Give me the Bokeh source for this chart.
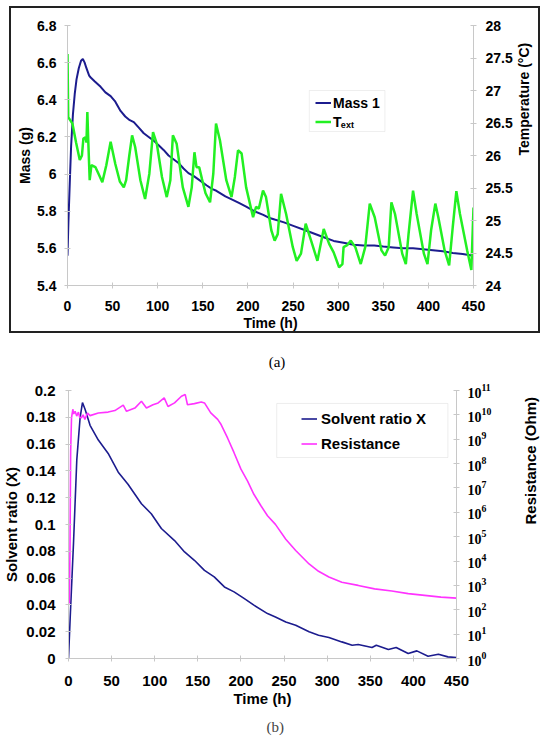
import math
from bokeh.plotting import figure
from bokeh.models import (LinearAxis, LogAxis, Range1d, LogScale, FixedTicker, Title,
                          CustomJSTickFormatter, LogTickFormatter, Legend, LegendItem,
                          BoxAnnotation, Label, Div)
from bokeh.layouts import column
from bokeh.embed import file_html
from bokeh.resources import INLINE

# ---------------- data: panel (a) ----------------
mass_t = [0, 1, 2.5, 4, 6, 8, 10, 12.5, 15, 17, 19, 21, 24, 25.7, 30, 36.7, 42, 47.8, 53,
          58.8, 64, 69, 73.5, 79, 84.5, 90, 95.5, 101, 106.5, 112, 117.5, 123, 128.6, 134,
          139.6, 147, 154, 160, 165, 175, 183.7, 190, 198, 207, 217, 223, 229.6, 240, 251,
          262, 273, 284, 295, 306, 317, 328, 340, 350, 361, 372, 383, 394, 405, 416, 427,
          438, 450]
mass_g = [5.56, 5.74, 5.95, 6.15, 6.32, 6.43, 6.51, 6.57, 6.61, 6.62, 6.60, 6.57, 6.53, 6.52,
          6.50, 6.47, 6.44, 6.42, 6.39, 6.34, 6.31, 6.29, 6.28, 6.25, 6.22, 6.20, 6.18, 6.155,
          6.13, 6.10, 6.08, 6.06, 6.03, 6.005, 5.99, 5.965, 5.94, 5.92, 5.91, 5.88, 5.86,
          5.845, 5.825, 5.80, 5.78, 5.765, 5.755, 5.74, 5.72, 5.70, 5.68, 5.66, 5.64, 5.63,
          5.62, 5.615, 5.615, 5.61, 5.605, 5.60, 5.60, 5.595, 5.59, 5.585, 5.575, 5.57, 5.56]

temp_t = [0, 0.8, 5.5, 9.5, 13.6, 16, 17.6, 20, 21, 22, 23, 24.6, 26.5, 31, 35, 38.6, 43,
          47.8, 53, 58, 62.4, 65, 68.5, 71.6, 75, 80.8, 86, 90.7, 94.8, 99, 104.7, 110, 114,
          116.8, 121, 127.8, 134, 137.7, 140.7, 143, 146, 149, 153, 158, 161.6, 164.6, 169,
          176, 181.8, 185.5, 189, 193, 198, 205.7, 209, 212, 216.7, 220, 225.9, 229.6, 233,
          236.7, 242.3, 249.7, 254, 258.8, 264, 270, 277, 284, 290, 295, 301, 304.7, 306,
          310, 314, 319, 325, 330, 335, 340.5, 348, 352, 356, 359, 363, 371, 375, 378, 383,
          387, 395, 399, 403, 407.7, 411, 418, 423, 427, 431, 435, 443, 447.6, 450]
temp_c = [27.56, 26.59, 26.49, 26.20, 25.93, 26.00, 26.26, 26.28, 26.20, 26.67, 26.23, 25.62,
          25.85, 25.82, 25.70, 25.59, 25.85, 26.21, 25.87, 25.60, 25.51, 25.62, 26.00, 26.31,
          26.13, 25.62, 25.33, 25.72, 26.36, 26.18, 25.67, 25.36, 25.62, 26.31, 26.18, 25.51,
          25.21, 25.51, 26.05, 25.82, 25.82, 25.64, 25.42, 25.28, 25.72, 26.49, 26.23, 25.62,
          25.36, 25.67, 26.08, 26.03, 25.51, 25.05, 25.21, 25.18, 25.46, 25.36, 24.85, 24.69,
          24.79, 25.41, 25.10, 24.59, 24.38, 24.49, 24.95, 24.69, 24.38, 24.87, 24.64, 24.51,
          24.28, 24.33, 24.59, 24.62, 24.69, 24.59, 24.33, 24.59, 25.26, 25.05, 24.54, 24.46,
          24.59, 25.28, 25.10, 24.49, 24.33, 24.79, 25.46, 25.10, 24.49, 24.33, 24.85, 25.26,
          25.05, 24.54, 24.31, 24.90, 25.45, 25.10, 24.54, 24.24, 25.20]

# ---------------- data: panel (b) ----------------
solv_t = [0, 2, 5.8, 9.6, 13.5, 16.2, 19.2, 25, 34.6, 46, 57.7, 69, 84.6, 96, 107.7, 123,
          134.6, 146, 157.7, 169, 180.8, 192, 204, 215, 230.8, 240, 252, 263.5, 279, 290,
          302, 317, 329, 336, 352, 357, 371, 380, 394, 404, 417, 429, 440, 450]
solv_x = [0, 0.031, 0.086, 0.148, 0.180, 0.191, 0.186, 0.174, 0.163, 0.153, 0.139, 0.130,
          0.1155, 0.108, 0.097, 0.088, 0.0795, 0.0733, 0.0658, 0.0609, 0.0534, 0.0497,
          0.0447, 0.0398, 0.0335, 0.031, 0.0273, 0.0248, 0.0199, 0.0174, 0.0157, 0.0124,
          0.0099, 0.0104, 0.0082, 0.0099, 0.0067, 0.0082, 0.0037, 0.0057, 0.0017, 0.0032,
          0.0012, 0.0007]

res_t = [1, 1.7, 2.5, 3.5, 5, 6, 7.7, 9.5, 11.5, 13, 15, 17, 19, 22, 25, 34.6, 46, 53.8,
         63.5, 67.3, 77, 84.6, 90.4, 98, 104, 111, 115.4, 123, 131, 135.4, 138, 146, 154,
         157.7, 165, 173, 177, 184.6, 192, 200, 207.7, 215, 223, 230.8, 240, 252, 263.5,
         279, 290, 302, 317, 336, 355, 375, 394, 413, 432, 450]
res_ohm = [1.8e2, 2.5e4, 3.2e8, 7.6e9, 1.7e10, 1.1e10, 1.4e10, 8.9e9, 1.3e10, 7.9e9, 7.6e9,
           1.0e10, 6.5e9, 1.2e10, 9.3e9, 1.2e10, 1.3e10, 1.5e10, 2.5e10, 1.4e10, 1.9e10,
           3.6e10, 1.9e10, 2.6e10, 3.1e10, 5.0e10, 2.2e10, 3.1e10, 5.8e10, 6.8e10, 2.6e10,
           2.9e10, 3.4e10, 3.1e10, 1.2e10, 6.5e9, 4.0e9, 1.1e9, 2.8e8, 5.9e7, 1.9e7, 5.5e6,
           1.9e6, 7.2e5, 3.2e5, 7.9e4, 2.7e4, 7.6e3, 3.8e3, 2.2e3, 1.35e3, 1.0e3, 7.2e2,
           5.9e2, 4.6e2, 3.9e2, 3.3e2, 3.0e2]

# ---------------- ticks / labels ----------------
time_ticks = [0, 50, 100, 150, 200, 250, 300, 350, 400, 450]
mass_ticks = [5.4, 5.6, 5.8, 6.0, 6.2, 6.4, 6.6, 6.8]
temp_ticks = [24, 24.5, 25, 25.5, 26, 26.5, 27, 27.5, 28]
solv_ticks = [0, 0.02, 0.04, 0.06, 0.08, 0.1, 0.12, 0.14, 0.16, 0.18, 0.2]
res_ticks = [1e0, 1e1, 1e2, 1e3, 1e4, 1e5, 1e6, 1e7, 1e8, 1e9, 1e10, 1e11]

FONT = "Liberation Sans"
SERIF = "Liberation Serif"
AXC = "#c8c8c8"
BLUE = "#1c1c8e"
GREEN = "#22f022"
MAGENTA = "#ff33ff"

trim = CustomJSTickFormatter(code="""
let s = tick.toFixed(2); s = s.replace(/0+$/, ''); s = s.replace(/\\.$/, ''); return s;
""")

HAS_ORIENT = "axis_label_orientation" in LinearAxis.properties()


def style_axis(ax, size, standoff, label_standoff, font=FONT, bold=True):
    ax.axis_line_color = AXC
    ax.major_tick_line_color = AXC
    ax.major_tick_in = 3
    ax.major_tick_out = 3
    ax.minor_tick_line_color = None
    ax.major_label_text_font = font
    ax.major_label_text_font_size = size
    ax.major_label_text_font_style = "bold" if bold else "normal"
    ax.major_label_text_color = "black"
    ax.major_label_standoff = standoff
    ax.axis_label_text_font = FONT
    ax.axis_label_text_font_size = size
    ax.axis_label_text_font_style = "bold"
    ax.axis_label_text_color = "black"
    ax.axis_label_standoff = label_standoff


def right_label(p, ax, text, size, standoff):
    if HAS_ORIENT:
        ax.axis_label = text
        ax.axis_label_orientation = math.pi / 2
    else:
        p.add_layout(Title(text=text, align="center", text_font=FONT, text_font_size=size,
                           text_font_style="bold", standoff=standoff), "right")


# ================= panel (a) =================
pa = figure(width=527, height=323, x_range=Range1d(0, 450), y_range=Range1d(5.4, 6.8),
            output_backend="svg", toolbar_location=None, frame_align=False,
            min_border_left=56, min_border_right=67, min_border_top=17, min_border_bottom=50,
            margin=(6, 0, 0, 9),
            styles={"border": "2px solid #222222", "box-sizing": "content-box"})
pa.outline_line_color = None
pa.grid.visible = False
pa.extra_y_ranges = {"temp": Range1d(24, 28)}

style_axis(pa.xaxis[0], "14px", 12, 1)
pa.xaxis[0].ticker = FixedTicker(ticks=time_ticks)
pa.xaxis[0].axis_label = "Time (h)"
style_axis(pa.yaxis[0], "14px", 8, 1)
pa.yaxis[0].ticker = FixedTicker(ticks=mass_ticks)
pa.yaxis[0].formatter = trim
pa.yaxis[0].axis_label = "Mass (g)"

ax_t = LinearAxis(y_range_name="temp", ticker=FixedTicker(ticks=temp_ticks), formatter=trim)
style_axis(ax_t, "14px", 9, 8)
pa.add_layout(ax_t, "right")
right_label(pa, ax_t, "Temperature (°C)", "14px", 8)

r_mass = pa.line(mass_t, mass_g, line_color=BLUE, line_width=2)
r_temp = pa.line(temp_t, temp_c, line_color=GREEN, line_width=2.5, y_range_name="temp")

pa.add_layout(BoxAnnotation(left=268, right=351.8, bottom=6.229, top=6.45, fill_color="white",
                            fill_alpha=1, line_color=AXC, line_width=1))
leg_a = Legend(items=[LegendItem(label="Mass 1", renderers=[r_mass]),
                      LegendItem(label="T", renderers=[r_temp])],
               location=(248, 154), padding=0, margin=0, spacing=0,
               glyph_width=16, glyph_height=19, label_height=19, label_standoff=2,
               label_text_font=FONT, label_text_font_size="14px", label_text_font_style="bold",
               label_text_color="black", background_fill_alpha=0, border_line_alpha=0)
pa.add_layout(leg_a)
pa.add_layout(Label(x=303, y=6.262, text="ext", text_font=FONT, text_font_size="9px",
                    text_font_style="bold", text_baseline="middle", text_color="black"))

cap_a = Div(text="(a)", width=546, height=40, margin=(0, 0, 0, 4),
            styles={"text-align": "center", "font-family": SERIF, "font-size": "15px",
                    "line-height": "58px", "color": "black"})

# ================= panel (b) =================
pb = figure(width=550, height=373, x_range=Range1d(0, 450), y_range=Range1d(0, 0.2),
            output_backend="svg", toolbar_location=None, frame_align=False,
            min_border_left=67, min_border_right=93, min_border_top=17, min_border_bottom=88)
pb.outline_line_color = None
pb.grid.visible = False
pb.extra_y_ranges = {"log": Range1d(1, 1e11)}
pb.extra_y_scales = {"log": LogScale()}

style_axis(pb.xaxis[0], "15px", 14, 1)
pb.xaxis[0].ticker = FixedTicker(ticks=time_ticks)
pb.xaxis[0].axis_label = "Time (h)"
style_axis(pb.yaxis[0], "15px", 10, 3)
pb.yaxis[0].ticker = FixedTicker(ticks=solv_ticks)
pb.yaxis[0].formatter = trim
pb.yaxis[0].axis_label = "Solvent ratio (X)"

ax_r = LogAxis(y_range_name="log", ticker=FixedTicker(ticks=res_ticks),
               formatter=LogTickFormatter())
style_axis(ax_r, "14px", 8, 36, font=SERIF)
ax_r.axis_label_text_font_size = "15px"
pb.add_layout(ax_r, "right")
right_label(pb, ax_r, "Resistance (Ohm)", "15px", 36)

r_solv = pb.line(solv_t, solv_x, line_color=BLUE, line_width=1.6)
r_res = pb.line(res_t, res_ohm, line_color=MAGENTA, line_width=1.6, y_range_name="log")

pb.add_layout(BoxAnnotation(left=241.5, right=440, bottom=0.15, top=0.1903, fill_color="white",
                            fill_alpha=1, line_color=AXC, line_width=1))
leg_b = Legend(items=[LegendItem(label="Solvent ratio X", renderers=[r_solv]),
                      LegendItem(label="Resistance", renderers=[r_res])],
               location=(233, 202.5), padding=0, margin=0, spacing=0,
               glyph_width=16, glyph_height=25, label_height=25, label_standoff=4,
               label_text_font=FONT, label_text_font_size="15px", label_text_font_style="bold",
               label_text_color="black", background_fill_alpha=0, border_line_alpha=0)
pb.add_layout(leg_b)

pb.add_layout(Title(text="(b)", align="left", offset=198, text_font=SERIF,
                    text_font_size="15px", text_font_style="normal", standoff=14), "below")

page = column(pa, cap_a, pb)
open("out.html", "w").write(file_html(page, INLINE))
